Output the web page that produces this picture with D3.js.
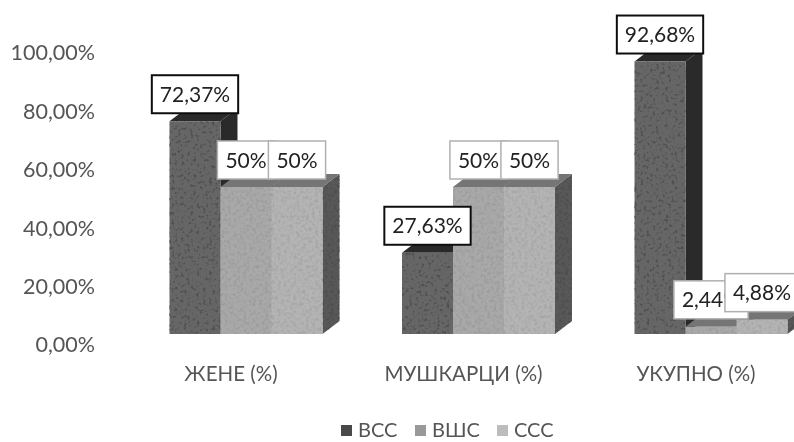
<!DOCTYPE html>
<html><head><meta charset="utf-8">
<style>html,body{margin:0;padding:0;background:#fff}svg{display:block}text{font-family:Lato,sans-serif}</style>
<script src="https://cdnjs.cloudflare.com/ajax/libs/d3/7.8.5/d3.min.js"></script>
</head><body><svg id="c" width="794" height="442"></svg>
<script>
const categories = ["ЖЕНЕ (%)", "МУШКАРЦИ (%)", "УКУПНО (%)"];
const seriesNames = ["ВСС", "ВШС", "ССС"];
const vcc = [72.37, 27.63, 92.68];
const vsc = [50, 50, 2.44];
const ccc = [50, 50, 4.88];
const labelsVcc = ["72,37%", "27,63%", "92,68%"];
const labelsVsc = ["50%", "50%", "2,44%"];
const labelsCcc = ["50%", "50%", "4,88%"];
const tickValues = [0, 20, 40, 60, 80, 100];
const tickLabels = ["0,00%", "20,00%", "40,00%", "60,00%", "80,00%", "100,00%"];

const values = [vcc, vsc, ccc], labels = [labelsVcc, labelsVsc, labelsCcc];
const front = ["#666666", "#a9a9a9", "#b4b4b4"];
const side = ["#2a2a2a", "#585858", "#585858"];
const topc = ["#2c2c2c", "#747474", "#747474"];
const legendc = ["#4a4a4a", "#999", "#bcbcbc"];
const border = ["#111", "#b0b0b0", "#b0b0b0"];
const depthX = 17, depthY = 13;

const svg = d3.select("#c");
const defs = svg.append("defs");
function speck(id, gain, offset){
  const f = defs.append("filter").attr("id",id).attr("x",0).attr("y",0).attr("width",1).attr("height",1);
  f.append("feTurbulence").attr("type","fractalNoise").attr("baseFrequency",0.32).attr("numOctaves",2).attr("seed",4).attr("result","n");
  f.append("feColorMatrix").attr("in","n").attr("type","matrix")
   .attr("values",`0 0 0 0 0.08  0 0 0 0 0.08  0 0 0 0 0.08  ${gain} 0 0 0 ${offset}`).attr("result","s");
  f.append("feComposite").attr("in","s").attr("in2","SourceAlpha").attr("operator","in").attr("result","c");
  f.append("feMerge").selectAll("feMergeNode").data(["SourceGraphic","c"]).join("feMergeNode").attr("in",d=>d);
}
speck("speckDark", 5, -2.7);
speck("speckLight", 0.6, -0.26);
speck("speckSide", 5, -2.4);
defs.append("filter").attr("id","soft").append("feGaussianBlur").attr("stdDeviation",0.4);

const root = svg.append("g").attr("filter","url(#soft)");
const y = d3.scaleLinear().domain([0,100]).range([334,40]);
const yTicks = d3.scaleLinear().domain([0,100]).range([345,53]);
const x0 = d3.scaleBand().domain(categories).range([169.5,787.5]).paddingInner(0.342).paddingOuter(0);
const x1 = d3.scaleBand().domain(d3.range(3)).range([0,x0.bandwidth()]);

const yAxis = d3.axisLeft(yTicks).tickValues(tickValues).tickSize(0).tickPadding(0)
  .tickFormat((d,i)=>tickLabels[i]);
const ya = root.append("g").attr("transform","translate(95,0)").call(yAxis);
ya.select(".domain").remove();
ya.selectAll("text").attr("font-size",21.5).attr("fill","#555").attr("font-family","Lato,sans-serif");

const xAxis = d3.axisBottom(x0).tickSize(0).tickPadding(0);
const xa = root.append("g").attr("transform","translate(-15,366)").call(xAxis);
xa.select(".domain").remove();
xa.selectAll("text").attr("font-size",20.5).attr("fill","#555").attr("font-family","Lato,sans-serif");

const poly = (g,pts,fill)=>g.append("polygon").attr("points",pts.map(p=>p.join(",")).join(" ")).attr("fill",fill);
categories.forEach((cat,c)=>{
  const g = root.append("g");
  [0,1,2].forEach(s=>{
    const v = values[s][c];
    const l = x0(cat)+x1(s), r = l+x1.bandwidth(), t = y(v), b = y(0);
    poly(g,[[r,t],[r+depthX,t-depthY],[r+depthX,b-depthY],[r,b]],side[s]).attr("filter",s?"url(#speckSide)":null);
    poly(g,[[l,t],[l+depthX,t-depthY],[r+depthX,t-depthY],[r,t]],topc[s]);
    g.append("rect").attr("x",l).attr("y",t).attr("width",r-l).attr("height",b-t)
      .attr("fill",front[s]).attr("filter",s?"url(#speckLight)":"url(#speckDark)");
  });
});

const lab = root.append("g");
categories.forEach((cat,c)=>{
  [0,1,2].forEach(s=>{
    const v = values[s][c];
    const cx = x0(cat)+x1(s)+x1.bandwidth()/2;
    const bottom = y(v)-8, h = 38;
    const g = lab.append("g");
    const rect = g.append("rect");
    const text = g.append("text").text(labels[s][c]).attr("x",cx).attr("y",bottom-h/2+7.5)
      .attr("text-anchor","middle").attr("font-size",21).attr("fill","#222");
    const w = text.node().getComputedTextLength()+16;
    rect.attr("x",cx-w/2).attr("y",bottom-h).attr("width",w).attr("height",h)
      .attr("fill","#fff").attr("stroke",border[s]).attr("stroke-width",s===0?2:1.5);
  });
});

const legendX = d3.scaleOrdinal().domain(seriesNames).range([341,415,497]);
const leg = root.append("g");
seriesNames.forEach((n,i)=>{
  const lx = legendX(n);
  leg.append("rect").attr("x",lx).attr("y",425).attr("width",11).attr("height",11).attr("fill",legendc[i]);
  leg.append("text").text(n).attr("x",lx+17).attr("y",437).attr("font-size",20).attr("fill","#555");
});
</script></body></html>
